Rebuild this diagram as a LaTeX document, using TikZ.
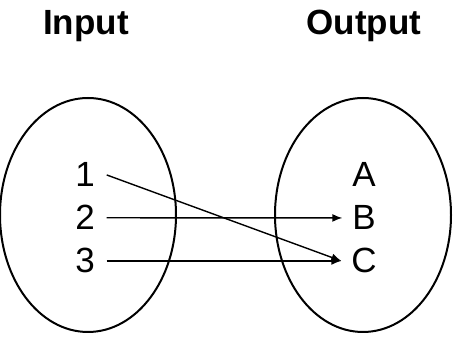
\documentclass[tikz,border=0pt]{standalone}
\usepackage{fontspec}
\setmainfont{Liberation Sans}
\usepackage{tikz}
\usetikzlibrary{arrows.meta,positioning,shapes.geometric}

\begin{document}
\begin{tikzpicture}[
  x=1pt, y=1pt,
  set/.style={draw, ellipse, line width=2pt, minimum width=176pt, minimum height=234pt, inner sep=0pt},
  title/.style={anchor=base, font=\fontsize{35}{42}\selectfont\bfseries},
  elem/.style={anchor=base, inner sep=0pt, font=\fontsize{35}{42}\selectfont},
  arr/.style={-{Latex[length=10pt, width=8pt]}, line width=1.4pt}
]
\useasboundingbox (0,0) rectangle (461,339);
\node[set] (inset) at (88,124) {};
\node[set] (outset) at (363,124) {};
\node[title] (intitle) at (86,304) {Input};
\node[title] (outtitle) at (364,304) {Output};

\node[elem, outer sep=12pt] (n1) at (85,152) {1};
\node[elem, outer sep=12pt] (n2) at (85,109) {2};
\node[elem, outer sep=12pt] (n3) at (85,66) {3};
\node[elem, outer sep=10pt] (nA) at (364,152) {A};
\node[elem, outer sep=10pt] (nB) at (364,109) {B};
\node[elem, outer sep=10pt] (nC) at (364,66) {C};

\draw[arr] (n1.east) -- (nC.west);
\draw[arr] (n2.east) -- (nB.west);
\draw[arr] (n3.east) -- (nC.west);
\end{tikzpicture}
\end{document}
